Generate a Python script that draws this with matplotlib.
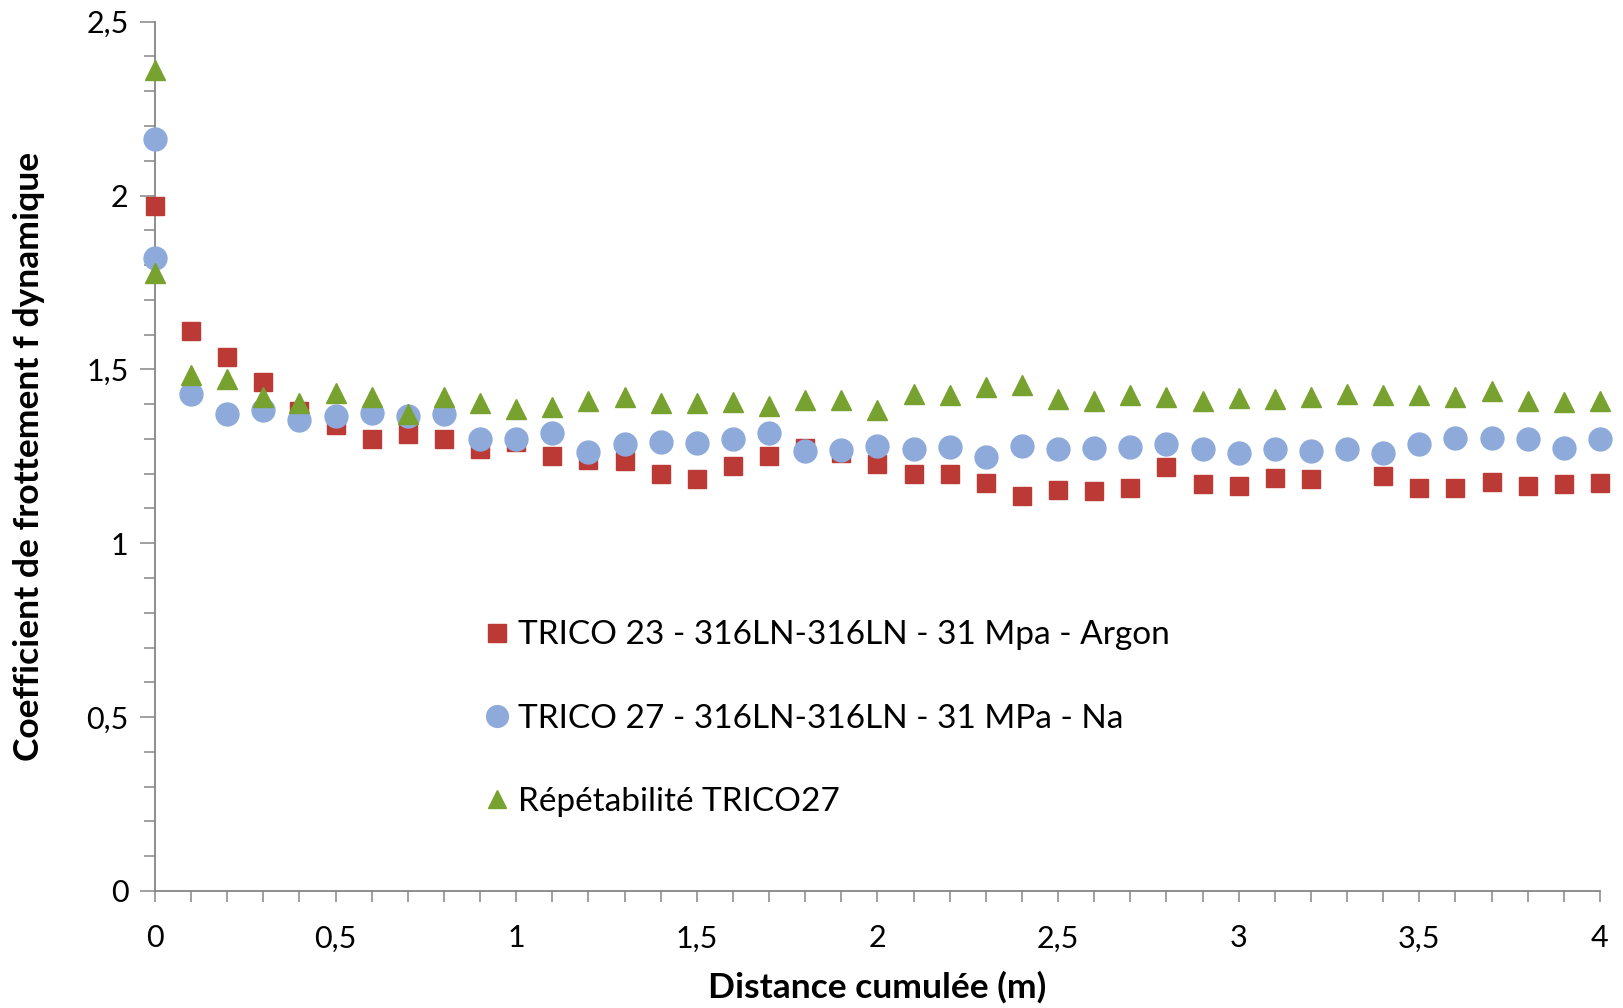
import matplotlib.pyplot as plt
from matplotlib.ticker import MultipleLocator, FuncFormatter

plt.rcParams['font.family'] = ['Lato', 'DejaVu Sans']

# Distance cumulée (m)
x_argon = [0, 0.1, 0.2, 0.3, 0.4, 0.5, 0.6, 0.7, 0.8, 0.9, 1.0,
           1.1, 1.2, 1.3, 1.4, 1.5, 1.6, 1.7, 1.8, 1.9, 2.0,
           2.1, 2.2, 2.3, 2.4, 2.5, 2.6, 2.7, 2.8, 2.9, 3.0,
           3.1, 3.2, 3.4, 3.5, 3.6, 3.7, 3.8, 3.9, 4.0]
x_na = [0, 0, 0.1, 0.2, 0.3, 0.4, 0.5, 0.6, 0.7, 0.8, 0.9, 1.0,
        1.1, 1.2, 1.3, 1.4, 1.5, 1.6, 1.7, 1.8, 1.9, 2.0,
        2.1, 2.2, 2.3, 2.4, 2.5, 2.6, 2.7, 2.8, 2.9, 3.0,
        3.1, 3.2, 3.3, 3.4, 3.5, 3.6, 3.7, 3.8, 3.9, 4.0]
x_rep = list(x_na)

# Coefficient de frottement
f_argon = [1.97, 1.61, 1.535, 1.465, 1.38, 1.34, 1.30, 1.315, 1.30, 1.27, 1.29,
           1.25, 1.24, 1.237, 1.20, 1.185, 1.222, 1.251, 1.275, 1.26, 1.227,
           1.20, 1.198, 1.173, 1.137, 1.153, 1.149, 1.16, 1.218, 1.17, 1.166,
           1.188, 1.186, 1.193, 1.16, 1.16, 1.177, 1.165, 1.17, 1.172]
f_na = [2.162, 1.819, 1.43, 1.373, 1.383, 1.354, 1.367, 1.375, 1.366, 1.373, 1.299, 1.299,
        1.316, 1.263, 1.285, 1.292, 1.288, 1.299, 1.318, 1.265, 1.268, 1.28,
        1.27, 1.278, 1.249, 1.28, 1.27, 1.273, 1.277, 1.286, 1.27, 1.26,
        1.27, 1.265, 1.27, 1.26, 1.286, 1.304, 1.304, 1.299, 1.273, 1.299]
f_rep = [2.361, 1.776, 1.484, 1.472, 1.421, 1.402, 1.432, 1.42, 1.373, 1.42, 1.403, 1.387,
         1.391, 1.408, 1.421, 1.403, 1.403, 1.407, 1.395, 1.411, 1.411, 1.382,
         1.43, 1.425, 1.45, 1.454, 1.414, 1.409, 1.427, 1.422, 1.41, 1.417,
         1.414, 1.422, 1.429, 1.425, 1.425, 1.422, 1.439, 1.41, 1.405, 1.41]

labels = ["TRICO 23 - 316LN-316LN - 31 Mpa - Argon",
          "TRICO 27 - 316LN-316LN - 31 MPa - Na",
          "Répétabilité TRICO27"]

fig = plt.figure(figsize=(16.24, 10.08), dpi=100)
ax = fig.add_axes([0.0954, 0.1161, 0.8898, 0.8624])

ax.plot(x_argon, f_argon, ls='none', marker='s', ms=13.5, color='#BC3A35',
        label=labels[0], clip_on=False, zorder=3)
ax.plot(x_na, f_na, ls='none', marker='o', ms=16.5, color='#8DAADB',
        label=labels[1], clip_on=False, zorder=4)
ax.plot(x_rep, f_rep, ls='none', marker='^', ms=14, color='#78A22F',
        label=labels[2], clip_on=False, zorder=5)

ax.set_xlim(0, 4)
ax.set_ylim(0, 2.5)

# axes look
for side in ['top', 'right']:
    ax.spines[side].set_visible(False)
for side in ['left', 'bottom']:
    ax.spines[side].set_color('#868686')
    ax.spines[side].set_linewidth(1.3)

ax.xaxis.set_major_locator(MultipleLocator(0.5))
ax.xaxis.set_minor_locator(MultipleLocator(0.1))
ax.yaxis.set_major_locator(MultipleLocator(0.5))
ax.yaxis.set_minor_locator(MultipleLocator(0.1))

comma = FuncFormatter(lambda v, p: ('%g' % v).replace('.', ','))
ax.xaxis.set_major_formatter(comma)
ax.yaxis.set_major_formatter(comma)

ax.tick_params(axis='x', which='both', length=8, width=1.1, color='#868686',
               labelsize=22, pad=16)
ax.tick_params(axis='y', which='major', length=11, width=1.1, color='#868686',
               labelsize=22, pad=8)
ax.tick_params(axis='y', which='minor', length=8, width=1.1, color='#868686')

ax.set_xlabel("Distance cumulée (m)", fontsize=25.5, fontweight='bold')
ax.set_ylabel("Coefficient de frottement f dynamique", fontsize=25.5, fontweight='bold')
ax.xaxis.set_label_coords(0.5, -0.092)
ax.yaxis.set_label_coords(-0.076, 0.5)

ax.legend(loc='center left', bbox_to_anchor=(0.2956, 0.287), bbox_transform=fig.transFigure,
          frameon=False, fontsize=24, handlelength=1, handletextpad=0.15,
          borderpad=0, borderaxespad=0, labelspacing=1.6, markerscale=0.95)

plt.savefig("out.png", dpi=100)
